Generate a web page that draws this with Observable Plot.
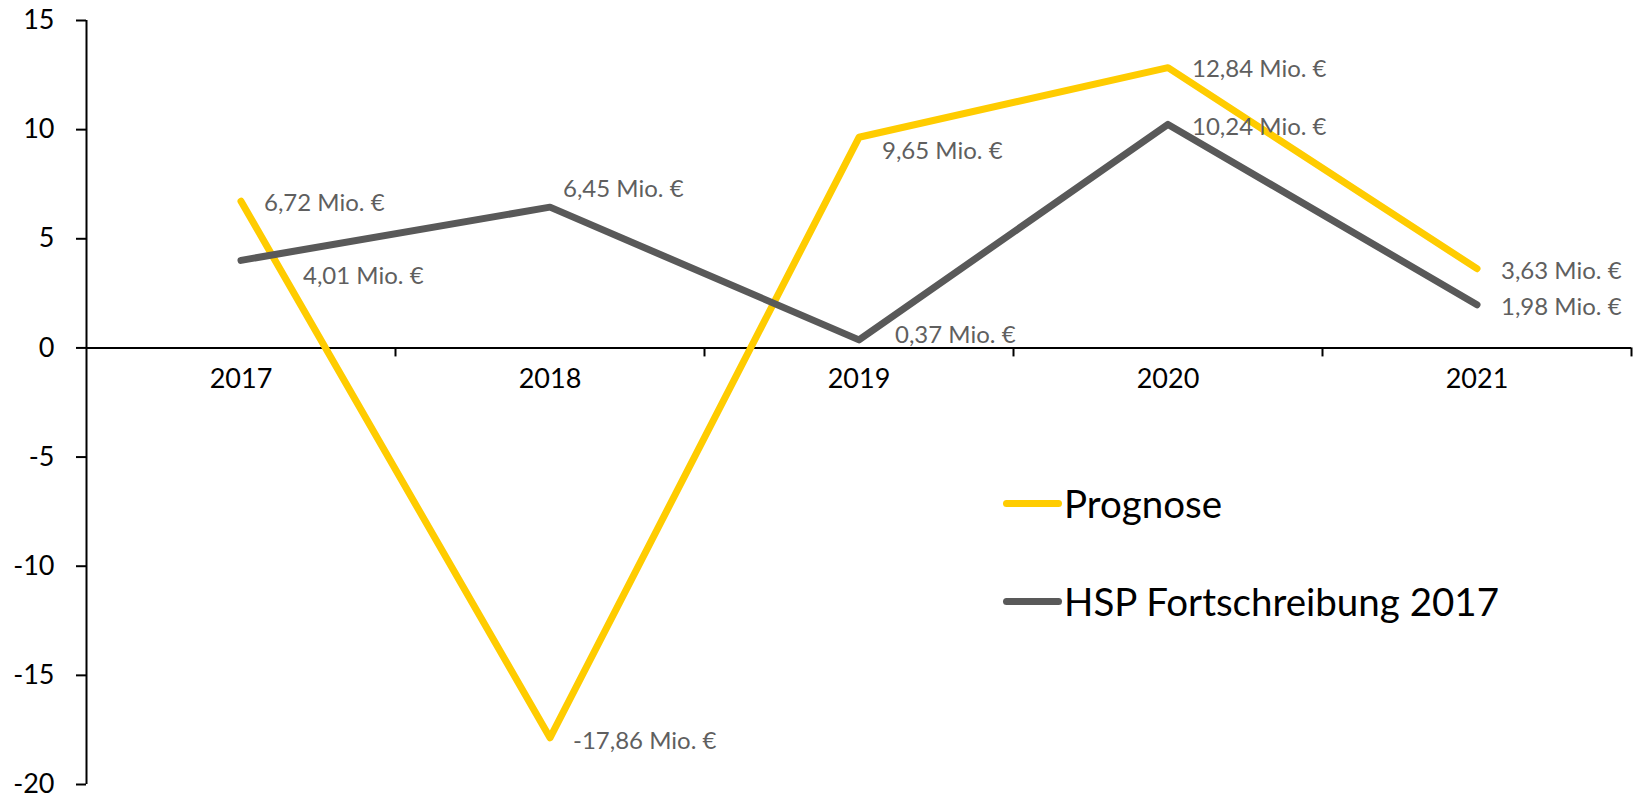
<!DOCTYPE html>
<html><head><meta charset="utf-8">
<script src="https://cdn.jsdelivr.net/npm/d3@7"></script>
<script src="https://cdn.jsdelivr.net/npm/@observablehq/plot@0.6"></script>
<style>
body{margin:0;background:#fff;}
#wrap{position:relative;width:1638px;height:799px;font-family:Lato,sans-serif;}
.leg{position:absolute;left:1003px;height:44px;line-height:44px;display:flex;align-items:center;font-size:38.5px;color:#000;white-space:nowrap;}
.sw{width:59px;height:7px;border-radius:4px;margin-right:2px;}
</style></head><body><div id="wrap"></div>
<script>
// ---- data ----
const years = [2017, 2018, 2019, 2020, 2021];
const prognose = [6.72, -17.86, 9.65, 12.84, 3.63];
const hsp = [4.01, 6.45, 0.37, 10.24, 1.98];
const seriesNames = ["Prognose", "HSP Fortschreibung 2017"];
const yTicks = [-20, -15, -10, -5, 0, 5, 10, 15];

// ---- styling config ----
const colors = {"Prognose": "#FFCC00", "HSP Fortschreibung 2017": "#595959"};
// label offsets [dx, dy] in px relative to each point
const labelOffsets = {
  "Prognose": [[23, 2], [23, 4], [23, 14], [24, 2], [24, 3]],
  "HSP Fortschreibung 2017": [[62, 16], [13, -18], [36, -5], [24, 3], [24, 3]]
};

const rows = [];
seriesNames.forEach((s, si) => {
  const vals = si === 0 ? prognose : hsp;
  years.forEach((y, i) => rows.push({series: s, year: y, value: vals[i], i}));
});
const fmt = v => d3.format(".2f")(v).replace("\u2212", "-").replace(".", ",") + " Mio. \u20AC";
const boundaries = years.map(y => y - 0.5).concat([years[years.length - 1] + 0.5]);
const xDomain = [years[0] - 0.5, years[years.length - 1] + 0.5];

const labelMarks = rows.map(r => Plot.text([r], {
  x: "year", y: "value", text: d => fmt(d.value),
  textAnchor: "start", dx: labelOffsets[r.series][r.i][0], dy: labelOffsets[r.series][r.i][1],
  fill: "#5f5f5f", fontSize: 24, fontFamily: "Lato"
}));

const chart = Plot.plot({
  width: 1638, height: 799,
  marginLeft: 86, marginRight: 7, marginTop: 20, marginBottom: 15,
  style: {fontFamily: "Lato", background: "white", overflow: "visible"},
  x: {domain: xDomain, axis: null},
  y: {domain: [yTicks[0], yTicks[yTicks.length - 1]], axis: null},
  marks: [
    Plot.axisY({ticks: yTicks, tickSize: 10, tickPadding: 22, tickFormat: d => String(d), label: null,
      fontSize: 27, fontFamily: "Lato", stroke: "#000", strokeWidth: 2, fill: "#000", color: "#000"}),
    Plot.ruleX([xDomain[0]], {y1: yTicks[0], y2: yTicks[yTicks.length - 1], stroke: "#000", strokeWidth: 2}),
    Plot.ruleY([0], {stroke: "#000", strokeWidth: 2}),
    Plot.ruleX(boundaries.slice(1), {y1: 0, y2: 0, insetTop: 0, insetBottom: -9, stroke: "#000", strokeWidth: 2}),
    Plot.text(years, {x: d => d, y: 0, dy: 31, text: d => String(d), fontSize: 27, fontFamily: "Lato", fill: "#000"}),
    Plot.line(rows.filter(r => r.series === seriesNames[0]), {x: "year", y: "value", stroke: colors[seriesNames[0]], strokeWidth: 7, strokeLinecap: "round", strokeLinejoin: "round"}),
    Plot.line(rows.filter(r => r.series === seriesNames[1]), {x: "year", y: "value", stroke: colors[seriesNames[1]], strokeWidth: 7, strokeLinecap: "round", strokeLinejoin: "round"}),
    ...labelMarks
  ]
});
const wrap = document.getElementById("wrap");
wrap.appendChild(chart);
const legendTops = [481, 579];
seriesNames.forEach((s, i) => {
  const d = document.createElement("div");
  d.className = "leg";
  d.style.top = legendTops[i] + "px";
  const sw = document.createElement("span");
  sw.className = "sw"; sw.style.background = colors[s];
  const t = document.createElement("span"); t.textContent = s;
  d.appendChild(sw); d.appendChild(t);
  wrap.appendChild(d);
});
</script></body></html>
